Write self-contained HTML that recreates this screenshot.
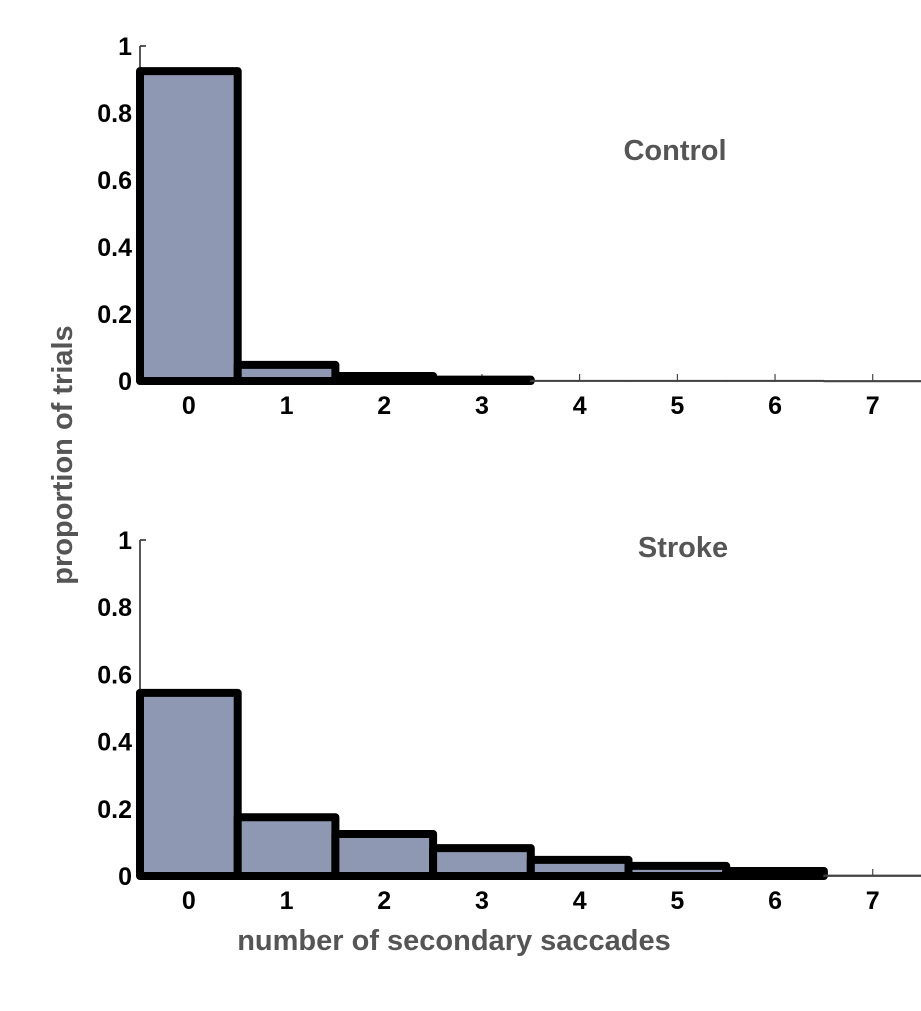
<!DOCTYPE html>
<html><head><meta charset="utf-8"><style>
body{margin:0;background:#fff}
svg{display:block;font-family:"Liberation Sans",Arial,sans-serif;font-weight:bold}
</style></head><body>
<svg id="chart" width="921" height="1011" viewBox="0 0 921 1011">
<text transform="translate(72,455) rotate(-90)" text-anchor="middle" font-size="29" fill="#555">proportion of trials</text>
<text x="454" y="950" text-anchor="middle" font-size="29" fill="#555">number of secondary saccades</text>
</svg>
<script>
const categories=[0,1,2,3,4,5,6,7];
const controlValues=[0.925,0.048,0.015,0.004,0.001,0.001,0.001,0];
const strokeValues=[0.545,0.175,0.125,0.083,0.048,0.03,0.015,0.002];
const yTicks=[0,0.2,0.4,0.6,0.8,1];
const yTickLabels=["0","0.2","0.4","0.6","0.8","1"];
const panels=[{name:"control",title:"Control",values:controlValues,y0:381,y1:46,tx:675,ty:160},
{name:"stroke",title:"Stroke",values:strokeValues,y0:876,y1:540,tx:683,ty:557}];
const NS="http://www.w3.org/2000/svg";
const svg=document.getElementById("chart");
function mk(t,a,p){const e=document.createElementNS(NS,t);for(const k in a)e.setAttribute(k,a[k]);(p||svg).appendChild(e);return e;}
const x0=140,step=97.7;
function xs(c){return x0+(c+0.5)*step;}
panels.forEach(p=>{
 const g=mk("g",{});
 
 
 const ys=v=>p.y0-(p.y0-p.y1)*v;
 const ax=mk("path",{d:`M${x0} ${ys(1)} H${x0+6} M${x0} ${ys(1)} V${p.y0} H921`,stroke:"#222","stroke-width":1.5,fill:"none"},g);
 
 
 yTicks.forEach((t,i)=>{
  const tl=mk("text",{x:x0-8,y:ys(t)+9,"text-anchor":"end","font-size":25,fill:"#000"},g);
  tl.textContent=yTickLabels[i];
  
  
 });
 categories.forEach(c=>{
  mk("line",{x1:xs(c),x2:xs(c),y1:p.y0,y2:p.y0-7,stroke:"#222","stroke-width":1},g);
  const tl=mk("text",{x:xs(c),y:p.y0+33,"text-anchor":"middle","font-size":25,fill:"#000"},g);
  tl.textContent=String(c);
  
  
 });
 p.values.forEach((v,i)=>{
  const xl=xs(categories[i])-step/2, top=ys(v), thick=v>0.003;
  const r=mk("rect",{x:xl,y:top,width:step,height:Math.max(p.y0-top,0.5),fill:"#8e98b3",stroke:thick?"#000":"#444","stroke-width":thick?8:1.5,"stroke-linejoin":"round"},g);
  
  
 });
 const t=mk("text",{x:p.tx,y:p.ty,"text-anchor":"middle","font-size":29,fill:"#555"},g);
 t.textContent=p.title;
 
 
});
</script>
</body></html>
